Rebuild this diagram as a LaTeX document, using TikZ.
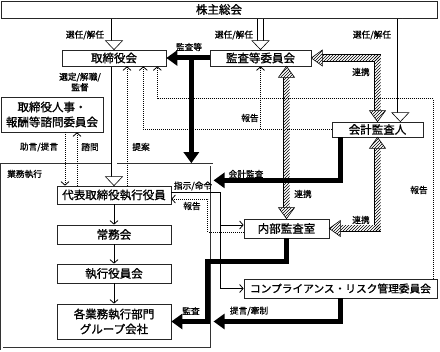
\documentclass[tikz,border=0pt]{standalone}
\usepackage{fontspec}
\setmainfont{Noto Sans CJK JP}
\newfontfamily\jpbox[FakeBold=1.2]{Noto Sans CJK JP}
\newfontfamily\jplbl[FakeBold=1.0]{Noto Sans CJK JP}
\usetikzlibrary{arrows.meta,calc,patterns}
\newcommand\arrhdDown[4]{\draw[#1] #2 -- ++({-#3},{-#4}) -- ++({2*#3},0) -- cycle;}
\newcommand\arrhdUp[4]{\draw[#1] #2 -- ++({-#3},{#4}) -- ++({2*#3},0) -- cycle;}
\newcommand\arrhdLeft[4]{\draw[#1] #2 -- ++({#4},{-#3}) -- ++(0,{2*#3}) -- cycle;}
\tikzset{
 box/.style={draw=black!85, line width=0.7pt, fill=white, inner sep=0pt, align=center, font=\jpbox\fontsize{11.5}{15}\selectfont},
 lbl/.style={inner sep=0pt, font=\jplbl\fontsize{8.7}{10.5}\selectfont, align=center},
 openhead/.style={draw, line width=0.6pt, fill=white, line join=miter},
 hatchhead/.style={draw, line width=0.6pt, preaction={fill=white}, pattern=north east lines, line join=miter},
 hollowshaft/.style={draw, double=white, double distance=5pt, line width=0.6pt},
 hatchshaft/.style={draw, double=white, double distance=6pt, line width=0.6pt, line join=miter},
 hatchfill/.style={pattern=north east lines},
 heavy/.style={line width=5pt, line join=miter, -{Triangle[length=11pt,width=15pt]}},
 thinarrow/.style={line width=0.8pt, -{Straight Barb[length=3.5pt,width=8pt]}},
 dotarrow/.style={line width=0.8pt, dash pattern=on 1pt off 1pt, -{Straight Barb[length=3.5pt,width=8pt]}},
}
\begin{document}
\begin{tikzpicture}[x=1pt,y=-1pt]
\useasboundingbox (0,0) rectangle (440,352);
% frame of business execution
\node[draw=black!80, double=white, double distance=1.3pt, line width=0.75pt, minimum width=210pt, minimum height=184pt, inner sep=0pt, anchor=north west] (gyomu) at (1.5,164.5) {};
\node[lbl, anchor=west, font=\jplbl\fontsize{8.7}{10}\selectfont] (lgyomu) at (7,174) {業務執行};
% boxes
\node[box, minimum width=436pt, minimum height=17pt] (kabunushi) at (219,9.5) {株主総会};
\node[box, minimum width=104pt, minimum height=16pt] (torishimari) at (114,58) {取締役会};
\node[box, minimum width=101pt, minimum height=16pt] (kansa) at (260.5,58) {監査等委員会};
\node[box, minimum width=91pt, minimum height=15pt] (kaikei) at (377.5,129.5) {会計監査人};
\node[box, minimum width=102pt, minimum height=35pt] (shimon) at (52,114.5) {取締役人事・\\報酬等諮問委員会};
\node[box, minimum width=114pt, minimum height=18pt] (daihyo) at (114,195) {代表取締役執行役員};
\node[box, minimum width=114pt, minimum height=19pt] (jomu) at (114,234.5) {常務会};
\node[box, minimum width=114pt, minimum height=19pt] (shikko) at (114,273.5) {執行役員会};
\node[box, minimum width=114pt, minimum height=35pt] (kaku) at (114,321.5) {各業務執行部門\\グループ会社};
\node[box, minimum width=85pt, minimum height=19pt] (naibu) at (286.5,228.5) {内部監査室};
\node[box, minimum width=193pt, minimum height=19pt, font=\jpbox\fontsize{10.7}{13}\selectfont] (compl) at (340.5,288.5) {コンプライアンス・リスク管理委員会};
% hollow arrows (selection / dismissal)
\draw[hollowshaft] ($(torishimari.north |- kabunushi.south)+(0,0.4)$) -- ($(torishimari.north)+(0,-8)$);
\arrhdDown{openhead}{(torishimari.north)}{8.5}{9}
\draw[hollowshaft] ($(kansa.north |- kabunushi.south)+(0,0.4)$) -- ($(kansa.north)+(0,-8)$);
\arrhdDown{openhead}{(kansa.north)}{8.5}{9}
\coordinate (k3) at ($(kaikei.north east)+(-23,0)$);
\draw[hollowshaft] ($(k3 |- kabunushi.south)+(0,0.4)$) -- ($(k3)+(0,-8)$);
\arrhdDown{openhead}{(k3)}{8.5}{9}
\draw[hollowshaft] ($(torishimari.south)+(0,0.4)$) -- ($(daihyo.north)+(0,-8)$);
\arrhdDown{openhead}{(daihyo.north)}{8.5}{9}
% hatched arrows (cooperation)
\coordinate (hk1) at (kaikei.north |- kansa.east);
\draw[hatchshaft] ($(kansa.east)+(10,0)$) -- (hk1) -- ($(kaikei.north)+(0,-10)$);
\fill[hatchfill] ($(kansa.east)+(10,-3)$) rectangle ($(hk1)+(3,3)$);
\fill[hatchfill] ($(hk1)+(-3,-3)$) rectangle ($(kaikei.north)+(3,-10)$);
\arrhdLeft{hatchhead}{(kansa.east)}{8}{11}
\arrhdDown{hatchhead}{(kaikei.north)}{8}{11}
\coordinate (hk2) at (naibu.north |- kansa.south);
\draw[hatchshaft] ($(hk2)+(0,10)$) -- ($(naibu.north)+(0,-10)$);
\fill[hatchfill] ($(hk2)+(-3,10)$) rectangle ($(naibu.north)+(3,-10)$);
\arrhdUp{hatchhead}{(hk2)}{8}{11}
\arrhdDown{hatchhead}{(naibu.north)}{8}{11}
\coordinate (hk3) at (kaikei.south |- naibu.east);
\draw[hatchshaft] ($(kaikei.south)+(0,10)$) -- (hk3) -- ($(naibu.east)+(10,0)$);
\fill[hatchfill] ($(kaikei.south)+(-3,10)$) rectangle ($(hk3)+(3,3)$);
\fill[hatchfill] ($(hk3)+(3,-3)$) rectangle ($(naibu.east)+(10,3)$);
\arrhdUp{hatchhead}{(kaikei.south)}{8}{11}
\arrhdLeft{hatchhead}{(naibu.east)}{8}{11}
% heavy arrows
\draw[heavy] (kansa.west) -- (torishimari.east);
\coordinate (tj) at ($(torishimari.east)+(25,0)$);
\draw[heavy] (tj) -- ($(tj |- gyomu.north)+(0,-1.3)$);
\draw[heavy] ($(kaikei.south west)+(9,0)$) -- ++(0,43) coordinate (c3) -- ($(gyomu.east |- c3)+(1.3,0)$);
\coordinate (vx) at ($(gyomu.east)+(-4.5,0)$);
\draw[heavy] (naibu.south) -- ++(0,23) coordinate (c1) -- (c1 -| vx) |- (kaku.east);
\draw[heavy] (compl.south) |- ($(gyomu.east |- kaku.east)+(1.3,0)$);
% thin arrows
\draw[thinarrow] (daihyo.south) -- (jomu.north);
\draw[thinarrow] (jomu.south) -- (shikko.north);
\draw[thinarrow] (shikko.south) -- (kaku.north);
\coordinate (s1) at ($(daihyo.east)+(49,-3)$);
\coordinate (na) at ($(naibu.west)+(0,-3.5)$);
\draw[thinarrow] ($(daihyo.east)+(0,-3)$) -- (s1) |- (compl.west);
\draw[thinarrow] (s1 |- na) -- (na);
% dotted arrows
\coordinate (nb) at ($(naibu.west)+(0,3.5)$);
\coordinate (dy) at ($(daihyo.east)+(0,4)$);
\draw[dotarrow] (nb) -- (nb -| vx) |- (dy);
\coordinate (r1) at ($(compl.north east)+(-4,0)$);
\coordinate (r2) at ($(torishimari.south east)+(-9,0)$);
\draw[dotarrow] (r1) -- ($(r1)+(0,-180)$) -| (r2);
\coordinate (r4) at ($(torishimari.south east)+(-23,0)$);
\draw[dotarrow] (kaikei.west) -| (r4);
\draw[dotarrow] (kansa.south |- kaikei.west) -- (kansa.south);
\coordinate (p) at ($(torishimari.south)+(13,0)$);
\draw[dotarrow] (daihyo.north -| p) -- (p);
\coordinate (q1) at ($(shimon.south)+(13,0)$);
\draw[dotarrow] (q1) -- (q1 |- daihyo.north);
\coordinate (q2) at ($(shimon.south)+(25,0)$);
\draw[dotarrow] (q2 |- daihyo.north) -- (q2);
% labels
\node[lbl] (l1) at (85,35) {選任/解任};
\node[lbl] (l2) at (234,35) {選任/解任};
\node[lbl] (l3) at (372,35) {選任/解任};
\node[lbl] (l4) at (189,47) {監査等};
\node[lbl] (l5) at (361,72) {連携};
\node[lbl] (l6) at (80,82) {選定/解職/\\監督};
\node[lbl] (l7) at (250,118) {報告};
\node[lbl] (l8) at (39,147) {助言/提言};
\node[lbl] (l9) at (90,147) {諮問};
\node[lbl] (l10) at (141,147) {提案};
\node[lbl] (l12) at (193,186) {指示/命令};
\node[lbl] (l13) at (192,206) {報告};
\node[lbl] (l14) at (246,174) {会計監査};
\node[lbl] (l15) at (303,194) {連携};
\node[lbl] (l16) at (361,220) {連携};
\node[lbl] (l17) at (419,190) {報告};
\node[lbl] (l18) at (191,311) {監査};
\node[lbl] (l19) at (249,311) {提言/牽制};
\end{tikzpicture}
\end{document}
